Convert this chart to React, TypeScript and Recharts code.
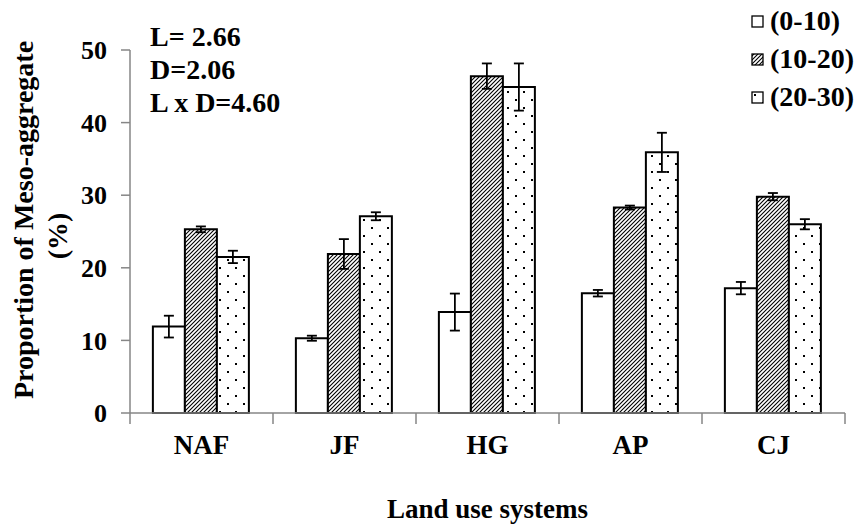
import { BarChart, Bar, XAxis, YAxis, ErrorBar, Label } from "recharts";

const categories = ["NAF", "JF", "HG", "AP", "CJ"];
const seriesNames = ["(0-10)", "(10-20)", "(20-30)"];
const depth0to10 = [11.9, 10.3, 13.9, 16.5, 17.2];
const depth0to10Err = [1.5, 0.35, 2.55, 0.45, 0.85];
const depth10to20 = [25.3, 21.9, 46.4, 28.3, 29.8];
const depth10to20Err = [0.4, 2.05, 1.75, 0.27, 0.5];
const depth20to30 = [21.5, 27.1, 44.9, 35.9, 26.0];
const depth20to30Err = [0.85, 0.55, 3.25, 2.7, 0.7];
const yTicks = [0, 10, 20, 30, 40, 50];
const stats = ["L= 2.66", "D=2.06", "L x D=4.60"];

const data = categories.map((c, i) => ({
  name: c,
  d1: depth0to10[i],
  e1: depth0to10Err[i],
  d2: depth10to20[i],
  e2: depth10to20Err[i],
  d3: depth20to30[i],
  e3: depth20to30Err[i],
}));

const FONT = "Liberation Serif, serif";
const AXIS = "#868686";
const fills = ["#ffffff", "url(#hatch)", "url(#dots)"];

// ticks sit on the category boundaries, labels in the middle
const CategoryTick = (props: any) => {
  const { x, y, payload, index } = props;
  const half = payload?.offset || 71.5;
  return (
    <g>
      <line x1={x - half} y1={y} x2={x - half} y2={y + 11} stroke={AXIS} strokeWidth={1.5} />
      {index === categories.length - 1 && (
        <line x1={x + half} y1={y} x2={x + half} y2={y + 11} stroke={AXIS} strokeWidth={1.5} />
      )}
      <text
        x={x}
        y={y + 41}
        textAnchor="middle"
        fontFamily={FONT}
        fontWeight="bold"
        fontSize={27}
        fill="#000"
      >
        {payload.value}
      </text>
    </g>
  );
};

const YTitle = () => (
  <g fontFamily={FONT} fontWeight="bold" fontSize={28} fill="#000">
    <text transform="translate(33,220) rotate(-90)" textAnchor="middle">
      Proportion of Meso-aggregate
    </text>
    <text transform="translate(67,236) rotate(-90)" textAnchor="middle">
      (%)
    </text>
  </g>
);

const Swatch = ({ fill }: { fill: string }) => (
  <svg width={13} height={13} style={{ marginRight: 6 }}>
    <rect x={1} y={1} width={11} height={11} fill={fill} stroke="#000" strokeWidth={1.3} />
  </svg>
);

export default function App() {
  return (
    <div style={{ position: "absolute", left: 0, top: 0, width: 861, height: 526, background: "#fff" }}>
      <svg width={0} height={0} style={{ position: "absolute" }}>
        <defs>
          <pattern id="hatch" width="4" height="4" patternUnits="userSpaceOnUse">
            <rect width="4" height="4" fill="#fff" />
            <path d="M-1,1 l2,-2 M0,4 l4,-4 M3,5 l2,-2" stroke="#000" strokeWidth="1.1" />
          </pattern>
          <pattern id="dots" width="16" height="16" patternUnits="userSpaceOnUse">
            <rect width="16" height="16" fill="#fff" />
            <rect x="3" y="3" width="2" height="2" fill="#000" />
            <rect x="11" y="11" width="2" height="2" fill="#000" />
          </pattern>
        </defs>
      </svg>
      <BarChart
        width={861}
        height={526}
        data={data}
        margin={{ top: 50, right: 16, bottom: 0, left: 70 }}
        barCategoryGap="16%"
        barGap={0}
      >
        <XAxis
          dataKey="name"
          height={113}
          axisLine={{ stroke: AXIS, strokeWidth: 1.5 }}
          tickLine={false}
          tickSize={0}
          tickMargin={0}
          tick={<CategoryTick />}
          interval={0}
        >
          <Label
            value="Land use systems"
            position="insideBottom"
            offset={8}
            style={{ fontFamily: FONT, fontWeight: "bold", fontSize: 27, fill: "#000" }}
          />
        </XAxis>
        <YAxis
          width={60}
          domain={[0, 50]}
          ticks={yTicks}
          interval={0}
          axisLine={{ stroke: AXIS, strokeWidth: 1.5 }}
          tickLine={{ stroke: AXIS, strokeWidth: 1.5 }}
          tickSize={9}
          tickMargin={14}
          tick={{ fontFamily: FONT, fontWeight: "bold", fontSize: 26, fill: "#000" }}
        >
          <Label content={<YTitle />} />
        </YAxis>
        {["d1", "d2", "d3"].map((k, i) => (
          <Bar
            key={k}
            dataKey={k}
            name={seriesNames[i]}
            fill={fills[i]}
            stroke="#000"
            strokeWidth={2}
            isAnimationActive={false}
          >
            <ErrorBar
              dataKey={`e${i + 1}`}
              width={5}
              stroke="#000"
              strokeWidth={1.8}
              direction="y"
            />
          </Bar>
        ))}
      </BarChart>
      <div
        style={{
          position: "absolute",
          left: 150,
          top: 20,
          fontFamily: FONT,
          fontWeight: "bold",
          fontSize: 28,
          lineHeight: "33px",
          color: "#000",
        }}
      >
        {stats.map((s) => (
          <div key={s} style={{ whiteSpace: "pre" }}>{s}</div>
        ))}
      </div>
      <div
        style={{
          position: "absolute",
          left: 751,
          top: 2,
          fontFamily: FONT,
          fontWeight: "bold",
          fontSize: 28,
          lineHeight: "38px",
          color: "#000",
        }}
      >
        {seriesNames.map((s, i) => (
          <div key={s} style={{ display: "flex", alignItems: "center", whiteSpace: "pre" }}>
            <Swatch fill={fills[i]} />
            {s}
          </div>
        ))}
      </div>
    </div>
  );
}
